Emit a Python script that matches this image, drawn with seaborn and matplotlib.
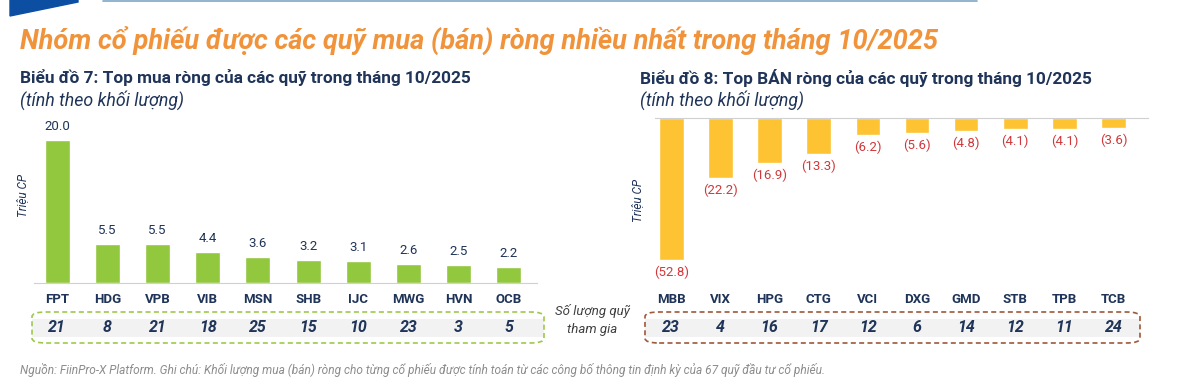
import matplotlib
matplotlib.use("Agg")
import matplotlib.pyplot as plt
import seaborn as sns
from matplotlib.patches import FancyBboxPatch, Rectangle, Polygon
from matplotlib.transforms import blended_transform_factory
from matplotlib.lines import Line2D

# Data
buy_tickers = ["FPT", "HDG", "VPB", "VIB", "MSN", "SHB", "IJC", "MWG", "HVN", "OCB"]
buy_values = [20.0, 5.5, 5.5, 4.4, 3.6, 3.2, 3.1, 2.6, 2.5, 2.2]
buy_funds = [21, 8, 21, 18, 25, 15, 10, 23, 3, 5]

sell_tickers = ["MBB", "VIX", "HPG", "CTG", "VCI", "DXG", "GMD", "STB", "TPB", "TCB"]
sell_values = [-52.8, -22.2, -16.9, -13.3, -6.2, -5.6, -4.8, -4.1, -4.1, -3.6]
sell_funds = [23, 4, 16, 17, 12, 6, 14, 12, 11, 24]

main_title = "Nhóm cổ phiếu được các quỹ mua (bán) ròng nhiều nhất trong tháng 10/2025"
left_title = "Biểu đồ 7: Top mua ròng của các quỹ trong tháng 10/2025"
right_title = "Biểu đồ 8: Top BÁN ròng của các quỹ trong tháng 10/2025"
sub_title = "(tính theo khối lượng)"
funds_label = "Số lượng quỹ\ntham gia"
footnote = ("Nguồn: FiinPro-X Platform. Ghi chú: Khối lượng mua (bán) ròng cho từng cổ phiếu được "
            "tính toán từ các công bố thông tin định kỳ của 67 quỹ đầu tư cổ phiếu.")

sns.set_style("white")
plt.rcParams["font.family"] = ["Roboto", "DejaVu Sans"]

W, H = 1180, 385
navy = "#1F3458"
green = "#92C83E"
yellow = "#FDC332"
red = "#D0393B"

fig = plt.figure(figsize=(W / 100, H / 100), dpi=100)


def px(x0, y0, x1, y1):
    # pixel box (top-left origin) -> figure fraction rect
    return [x0 / W, 1 - y1 / H, (x1 - x0) / W, (y1 - y0) / H]


# header decoration
fig.patches.append(Polygon([(10 / W, 1), (78 / W, 1), (78 / W, 1 - 2 / H), (10 / W, 1 - 16 / H)],
                           closed=True, transform=fig.transFigure, color="#0B4EA2"))
fig.lines.append(Line2D([103 / W, 977 / W], [1 - 1 / H, 1 - 1 / H], transform=fig.transFigure,
                        color="#7FA7C6", lw=1.2))

fig.text(20 / W, 1 - 40 / H, main_title, fontsize=19.6, fontweight="bold", fontstyle="italic",
         color="#F0933B", va="center")
fig.text(20 / W, 1 - 78 / H, left_title, fontsize=12.4, fontweight="bold", color=navy, va="center")
fig.text(20 / W, 1 - 100 / H, sub_title, fontsize=12.8, fontstyle="italic", color=navy, va="center")
fig.text(640 / W, 1 - 78 / H, right_title, fontsize=12.4, fontweight="bold", color=navy, va="center")
fig.text(640 / W, 1 - 100 / H, sub_title, fontsize=12.8, fontstyle="italic", color=navy, va="center")

# left chart: net buy
ax1 = fig.add_axes(px(34, 118, 537, 283))
sns.barplot(x=buy_tickers, y=buy_values, color=green, width=0.5, saturation=1, ax=ax1)
ax1.set_xlim(-0.46, 9.56)
ax1.set_ylim(0, 23.1)
ax1.bar_label(ax1.containers[0], fmt="%.1f", padding=5, fontsize=9.5, color=navy)
for s in ["top", "right", "left"]:
    ax1.spines[s].set_visible(False)
ax1.spines["bottom"].set_color("#D0D0D0")
ax1.set_yticks([])
ax1.tick_params(axis="x", length=0, pad=7, labelsize=9.5, labelcolor=navy)
for t in ax1.get_xticklabels():
    t.set_fontweight("bold")
ax1.set_ylabel("Triệu CP", fontsize=8.5, fontstyle="italic", color=navy)
ax1.yaxis.set_label_coords(-0.01, 0.53)

# right chart: net sell
ax2 = fig.add_axes(px(655, 118, 1148, 283))
sns.barplot(x=sell_tickers, y=sell_values, color=yellow, width=0.5, saturation=1, ax=ax2)
ax2.set_xlim(-0.33, 9.7)
ax2.set_ylim(-61.3, 0)
ax2.bar_label(ax2.containers[0], labels=[f"({abs(v):.1f})" for v in sell_values], padding=4,
              fontsize=9.5, color=red)
for s in ["bottom", "right", "left"]:
    ax2.spines[s].set_visible(False)
ax2.spines["top"].set_color("#D0D0D0")
ax2.set_yticks([])
ax2.tick_params(axis="x", length=0, pad=7, labelsize=9.5, labelcolor=navy)
for t in ax2.get_xticklabels():
    t.set_fontweight("bold")
ax2.set_ylabel("Triệu CP", fontsize=8.5, fontstyle="italic", color=navy)
ax2.yaxis.set_label_coords(-0.022, 0.5)

# fund count boxes
for ax, funds, edge, x0, x1 in [(ax1, buy_funds, "#9CC94A", 32, 544),
                                 (ax2, sell_funds, "#A0583A", 645, 1140)]:
    fig.patches.append(Rectangle((x0 / W, 1 - 337 / H), (x1 - x0) / W, 18 / H, zorder=-1,
                                 transform=fig.transFigure, facecolor="#F2F2F2", edgecolor="none"))
    fig.patches.append(FancyBboxPatch((x0 / W, 1 - 343 / H), (x1 - x0) / W, 31 / H, zorder=-1,
                                      boxstyle="round,pad=0,rounding_size=0.012",
                                      transform=fig.transFigure, facecolor="none",
                                      edgecolor=edge, lw=1.2, linestyle=(0, (3, 2))))
    tr = blended_transform_factory(ax.transData, fig.transFigure)
    for i, n in enumerate(funds):
        ax.text(i, 1 - 328 / H, str(n), transform=tr, ha="center", va="center", fontsize=11.5,
                fontweight="bold", fontstyle="italic", color=navy)

fig.text(592 / W, 1 - 320 / H, funds_label, ha="center", va="center", fontsize=9.5,
         fontstyle="italic", color="#404040", linespacing=1.4)

fig.text(20 / W, 1 - 370 / H, footnote, fontsize=8.6, fontstyle="italic", color="#8C8C8C",
         va="center")

fig.savefig("out.png", dpi=100)
